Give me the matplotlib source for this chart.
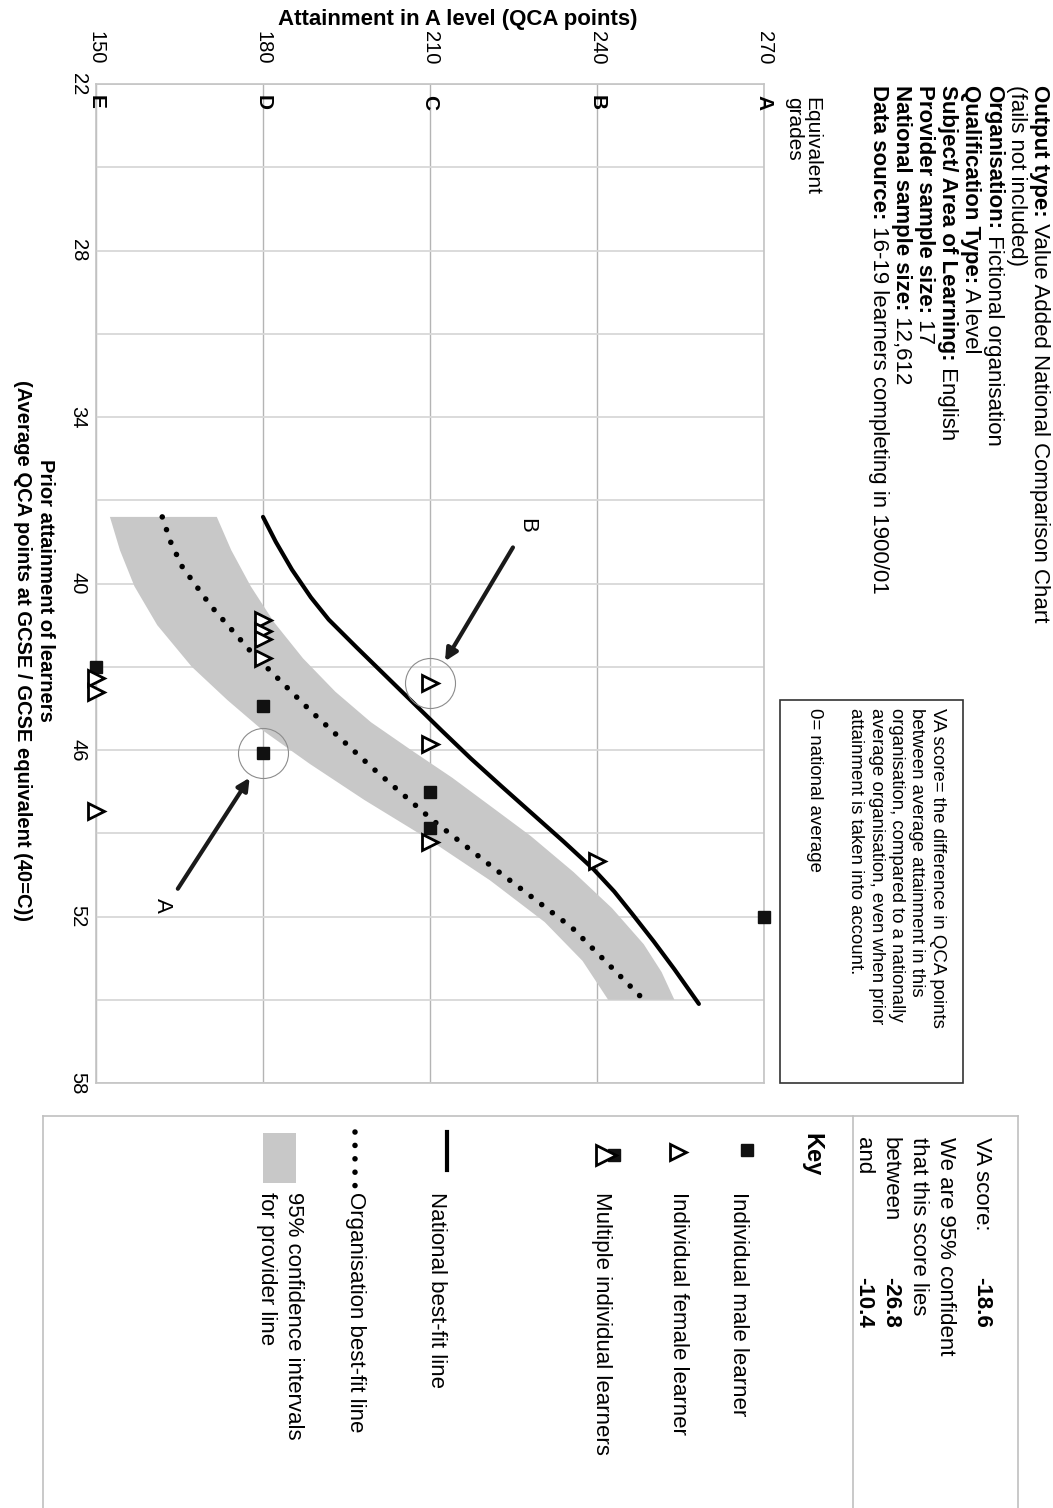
import matplotlib
matplotlib.use("Agg")
import matplotlib.pyplot as plt
from matplotlib.patches import Rectangle

plt.rcParams['font.family'] = ['Liberation Sans', 'DejaVu Sans']

# individual learners: A level points against prior GCSE points
male_att = [150, 180, 180, 210, 210, 270]
male_prior = [43.0, 44.4, 46.1, 47.5, 48.8, 52.0]
female_att = [150, 150, 150, 180, 180, 180, 180, 210, 210, 210, 240]
female_prior = [43.4, 43.9, 48.2, 41.3, 41.7, 42.0, 42.7, 43.6, 45.8, 49.3, 50.0]

# best-fit lines
nat_prior = [37.6, 38.5, 39.5, 40.5, 41.3, 42.3, 43.3, 44.3, 45.3, 46.3, 47.3, 48.3,
             49.3, 50.3, 51.1, 51.9, 52.9, 53.9, 55.15]
nat_att = [180.0, 182.3, 185.2, 188.6, 191.8, 196.8, 201.9, 207.0, 212.1, 217.3, 222.8,
           228.4, 234.0, 239.4, 243.1, 246.3, 250.2, 253.9, 258.3]
org_prior = [37.6, 38.5, 39.4, 40.8, 42.45, 44.6, 46.6, 48.5, 50.2, 52.4, 55.1]
org_att = [161.9, 163.4, 165.5, 170.6, 177.8, 188.6, 199.4, 210.3, 221.1, 235.5, 248.9]

# 95% confidence band for the provider line
ci_up_prior = [37.6, 38.8, 40.1, 41.4, 42.7, 43.9, 45.0, 46.0, 47.0, 48.1, 49.1, 50.4,
               51.7, 53.0, 54.0, 55.0]
ci_up_att = [171.7, 174.3, 177.8, 182.0, 187.2, 193.0, 199.4, 206.6, 214.0, 221.4, 228.1,
             235.8, 242.7, 248.4, 251.6, 253.9]
ci_lo_prior = [37.6, 38.8, 40.1, 41.5, 43.0, 44.2, 45.3, 46.5, 47.8, 49.2, 50.7, 52.2,
               53.6, 55.0]
ci_lo_att = [152.5, 154.3, 156.9, 161.0, 167.2, 173.6, 180.0, 188.4, 198.2, 209.6, 220.8,
             230.6, 237.4, 242.0]

# highlighted learners and their arrows
ring_att = [180, 210]
ring_prior = [46.1, 43.6]
arrow_labels = ['A', 'B']
arrow_tail = [(164.7, 51.0), (224.9, 38.7)]
arrow_head = [(177.6, 47.0), (212.7, 42.8)]
label_pos = [(162.0, 51.6), (227.4, 37.9)]

att_ticks = [150, 180, 210, 240, 270]
grades = ['E', 'D', 'C', 'B', 'A']
prior_ticks = [22, 28, 34, 40, 46, 52, 58]

W, H = 1053, 1508
fig = plt.figure(figsize=(W / 100, H / 100), dpi=100)

ax = fig.add_axes([96 / W, (H - 1083) / H, (764 - 96) / W, (1083 - 84) / H])
ax.set_xlim(150, 270)
ax.set_ylim(58, 22)
ax.set_xticks(att_ticks)
ax.set_yticks(prior_ticks)
ax.set_yticks(range(22, 59, 3), minor=True)
ax.xaxis.tick_top()
ax.tick_params(axis='x', length=0, pad=14, labelsize=14.5, labelrotation=270)
ax.tick_params(axis='y', which='both', length=0, pad=6, labelsize=14.5, labelrotation=270)
for lbl in ax.get_yticklabels():
    lbl.set_va('center')
ax.grid(axis='x', color='#b4b4b4', lw=1.0)
ax.grid(axis='y', which='both', color='#d8d8d8', lw=1.3)
ax.set_axisbelow(True)
for sp in ax.spines.values():
    sp.set_color('#c4c4c4')
    sp.set_linewidth(1.2)

ax.fill(ci_up_att + ci_lo_att[::-1], ci_up_prior + ci_lo_prior[::-1],
        color='#c8c8c8', lw=0, zorder=1)
ax.plot(nat_att, nat_prior, color='black', lw=3, solid_capstyle='round', zorder=3)
ax.plot(org_att, org_prior, color='black', lw=4, linestyle=(0, (0.01, 2.4)),
        dash_capstyle='round', zorder=3)

ax.plot(ring_att, ring_prior, 'o', ms=36, mfc='none', mec='#8c8c8c', mew=0.8, zorder=4)
ax.plot(male_att, male_prior, 's', ms=8.5, color='#111111', zorder=5, clip_on=False)
ax.plot(female_att, female_prior, '>', ms=12, mfc='white', mec='black', mew=2, zorder=6,
        clip_on=False)

for lab, tail, head, pos in zip(arrow_labels, arrow_tail, arrow_head, label_pos):
    ax.annotate('', xy=head, xytext=tail,
                arrowprops=dict(arrowstyle='-|>', lw=3, color='#1a1a1a', mutation_scale=18,
                                shrinkA=0, shrinkB=0), zorder=6)
    ax.text(pos[0], pos[1], lab, rotation=270, ha='center', va='center', fontsize=16)

for g, a in zip(grades, att_ticks):
    ax.text(a, 22.4, g, rotation=270, rotation_mode='anchor', ha='left', va='center',
            fontsize=15, weight='bold')

# page overlay for the surrounding text, boxes and key
page = fig.add_axes([0, 0, 1, 1], zorder=10)
page.set_xlim(0, W)
page.set_ylim(H, 0)
page.axis('off')
page.patch.set_alpha(0)

renderer = fig.canvas.get_renderer()


def vtext(x, y, parts, size):
    # draw text running down the page, one run after another
    for s, w in parts:
        t = page.text(x, y, s, rotation=270, rotation_mode='anchor', ha='left', va='top',
                      fontsize=size, weight=w)
        bb = t.get_window_extent(renderer)
        y = page.transData.inverted().transform((0, bb.y0))[1]


header = [
    [('Output type:', 'bold'), (' Value Added National Comparison Chart', 'normal')],
    [('(fails not included)', 'normal')],
    [('Organisation:', 'bold'), (' Fictional organisation', 'normal')],
    [('Qualification Type:', 'bold'), (' A level', 'normal')],
    [('Subject/ Area of Learning:', 'bold'), (' English', 'normal')],
    [('Provider sample size:', 'bold'), (' 17', 'normal')],
    [('National sample size:', 'bold'), (' 12,612', 'normal')],
    [('Data source:', 'bold'), (' 16-19 learners completing in 1900/01', 'normal')],
]
for i, parts in enumerate(header):
    vtext(1050 - i * 23.0, 85, parts, 16)

vtext(821, 97, [('Equivalent', 'normal')], 15)
vtext(803, 97, [('grades', 'normal')], 15)

page.text(458, 20, 'Attainment in A level (QCA points)', ha='center', va='center',
          fontsize=16, weight='bold')
page.text(45, 590, 'Prior attainment of learners', rotation=270, ha='center', va='center',
          fontsize=14.5, weight='bold')
page.text(22, 650, '(Average QCA points at GCSE / GCSE equivalent (40=C))', rotation=270,
          ha='center', va='center', fontsize=14.5, weight='bold')

# VA definition box
page.add_patch(Rectangle((780, 700), 183, 383, fill=False, ec='#333333', lw=1.2))
va_lines = ['VA score= the difference in QCA points',
            'between average attainment in this',
            'organisation, compared to a nationally',
            'average organisation, even when prior',
            'attainment is taken into account.']
for i, s in enumerate(va_lines):
    vtext(946 - i * 20.5, 708, [(s, 'normal')], 13.4)
vtext(823, 708, [('0= national average', 'normal')], 13.4)

# VA score and key panel
page.plot([43, 1018], [1116, 1116], color='#c0c0c0', lw=1.2)
page.plot([43, 43], [1116, H], color='#c0c0c0', lw=1.2)
page.plot([1018, 1018], [1116, H], color='#c0c0c0', lw=1.2)
page.plot([853, 853], [1116, H], color='#c0c0c0', lw=1.2)

score_rows = [('VA score:', '-18.6'), ('We are 95% confident', ''),
              ('that this score lies', ''), ('between', '-26.8'), ('and', '-10.4')]
score_x = [992, 956, 929, 901, 874]
for (s, v), x in zip(score_rows, score_x):
    vtext(x, 1137, [(s, 'normal')], 16)
    if v:
        vtext(x, 1277, [(v, 'bold')], 16)

vtext(823, 1133, [('Key', 'bold')], 17)

key_items = ['Individual male learner', 'Individual female learner',
             'Multiple individual learners', 'National best-fit line',
             'Organisation best-fit line', '95% confidence intervals', 'for provider line']
key_x = [749, 689, 612, 447, 366, 304, 277]
for s, x in zip(key_items, key_x):
    vtext(x, 1192, [(s, 'normal')], 16)

page.plot([747], [1150], 's', ms=8.5, color='#111111')
page.plot([678], [1152], '>', ms=12, mfc='white', mec='black', mew=2)
page.plot([614], [1155], 's', ms=9, color='#111111')
page.plot([606], [1155], '>', ms=15, mfc='white', mec='black', mew=2)
page.plot([447, 447], [1132, 1170], color='black', lw=3)
page.plot([355, 355], [1132, 1187], color='black', lw=4, linestyle=(0, (0.01, 2.4)),
          dash_capstyle='round')
page.add_patch(Rectangle((263, 1133), 33, 50, color='#c8c8c8', lw=0))

fig.savefig('out.png', dpi=100)
